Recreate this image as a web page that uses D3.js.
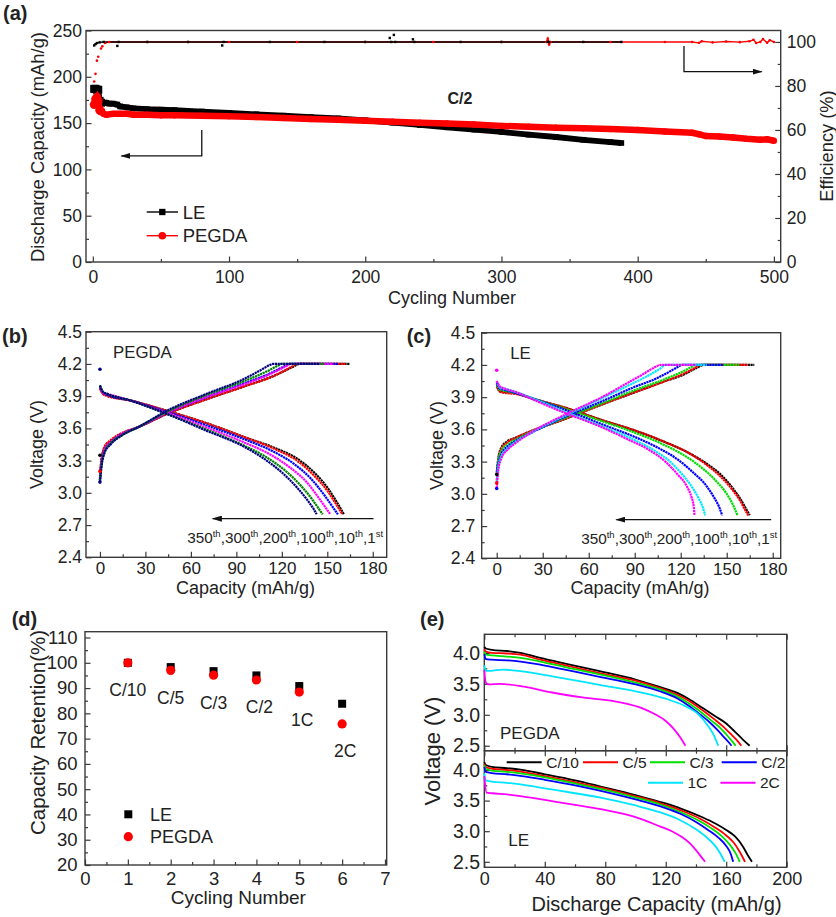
<!DOCTYPE html>
<html><head><meta charset="utf-8">
<script src="https://cdn.jsdelivr.net/npm/d3@7"></script>
<style>body{margin:0;background:#fff}</style>
</head><body>
<script>
// ---------------- DATA ----------------
// (a) cycling performance
const aCyclesLE = [1,2,3,4,5,6,8,10,12,15,18,20,25,30,40,50,60,80,100,120,140,160,180,200,220,240,260,280,300,320,340,360,380,388];
const aCapLE    = [187,187,186,186,174,172,172,172,171,171,170,168,167,166,165,164.5,164,162.5,161,159.5,158,156.5,155,153,150.5,148,145.5,143,140.5,137.5,135,132,129.5,128.5];
const aCyclesPEGDA = [1,2,3,4,5,6,8,10,15,20,25,30,40,50,60,80,100,120,140,160,180,200,220,240,260,280,300,320,340,360,380,400,420,440,445,450,460,470,480,490,495,500];
const aCapPEGDA    = [170,176,178,174,164,163,160,159,160,160,160,159,159,158.5,158.5,158,157.5,156.5,155.5,154.5,153.5,152.5,151.5,150.5,149.5,148.5,147,146,145,144.5,143.5,142.5,141,139.5,138,136,135.5,134.5,133,132,132.5,131];
const aEffCyclesLE = [1,2,3,5,8,18,19,40,70,95,96,130,170,200,218,219,221,222,235,236,270,300,334,335,360,388];
const aEffLE       = [98.4,99.0,99.5,99.8,100,98.2,100,100,100,98.4,100,100,100,100,101.8,100,103.2,100,101.2,100,100,100,100,100,100,100];
const aEffCyclesPEGDA = [1,2,3,4,6,7,9,12,40,70,100,150,200,250,300,333,334,335,336,380,420,440,445,447,455,465,475,482,485,487,490,492,495,497,500];
const aEffPEGDA       = [82,85.5,91.5,93.3,97,98,99.5,100,100,100,100,100,100,100,100,100,101.5,98.8,100,100,100,100,99.6,100.3,99.8,100.2,99.9,100.3,101,99.5,100,101.3,99.6,100.8,100];
const aXTicks = [0,100,200,300,400,500];
const aYTicks = [0,50,100,150,200,250];
const aY2Ticks = [0,20,40,60,80,100];

// (b) PEGDA charge/discharge profiles
const bCycles = ["1st","10th","100th","200th","300th","350th"];
const bColors = ["#000000","#ff0000","#0000ff","#ff00ff","#008000","#000080"];
const bCharge = [
 [[0,3.12],[1,3.30],[3,3.42],[7,3.48],[15,3.55],[25,3.61],[45,3.74],[70,3.87],[95,3.99],[115,4.09],[127,4.17],[132,4.20],[165,4.20]],
 [[0,3.20],[1,3.31],[3,3.43],[7,3.49],[15,3.56],[25,3.61],[45,3.74],[70,3.87],[95,3.99],[115,4.09],[126,4.17],[130,4.20],[162,4.20]],
 [[0,3.12],[1,3.28],[3,3.40],[7,3.47],[15,3.55],[25,3.61],[45,3.75],[70,3.89],[95,4.02],[112,4.11],[122,4.18],[125,4.20],[157,4.20]],
 [[0,3.14],[1,3.28],[3,3.40],[7,3.47],[15,3.55],[25,3.61],[45,3.75],[70,3.89],[95,4.01],[113,4.11],[123,4.18],[126,4.20],[154,4.20]],
 [[0,3.12],[1,3.26],[3,3.38],[7,3.46],[15,3.54],[25,3.61],[45,3.76],[70,3.91],[95,4.04],[110,4.13],[117,4.18],[120,4.20],[148,4.20]],
 [[0,3.10],[1,3.24],[3,3.37],[7,3.45],[15,3.54],[25,3.61],[45,3.77],[70,3.92],[95,4.06],[107,4.15],[112,4.19],[114,4.20],[145,4.20]]
];
const bDischarge = [
 [[0,3.98],[2,3.93],[5,3.91],[20,3.86],[45,3.76],[70,3.65],[95,3.52],[115,3.42],[130,3.32],[142,3.18],[150,3.05],[156,2.92],[161,2.80]],
 [[0,3.97],[2,3.92],[5,3.90],[20,3.86],[45,3.76],[70,3.65],[95,3.52],[115,3.41],[130,3.30],[142,3.15],[150,3.02],[156,2.89],[160,2.80]],
 [[0,3.99],[2,3.93],[5,3.91],[20,3.86],[45,3.75],[70,3.63],[95,3.50],[115,3.38],[128,3.27],[140,3.12],[148,2.98],[153,2.88],[157,2.80]],
 [[0,3.99],[2,3.93],[5,3.92],[20,3.86],[45,3.74],[70,3.61],[95,3.47],[112,3.36],[125,3.24],[137,3.09],[144,2.96],[149,2.86],[152,2.80]],
 [[0,4.00],[2,3.94],[5,3.92],[20,3.86],[45,3.73],[70,3.59],[95,3.44],[110,3.33],[122,3.21],[133,3.06],[140,2.94],[144,2.86],[147,2.80]],
 [[0,4.00],[2,3.94],[5,3.92],[20,3.86],[45,3.73],[70,3.58],[95,3.43],[108,3.32],[120,3.19],[130,3.05],[137,2.93],[141,2.85],[143,2.80]]
];
const bRestDots = [[0,4.15,5],[0,3.10,5],[0,3.20,1],[0,3.35,0]];

// (c) LE charge/discharge profiles
const cCycles = ["1st","10th","100th","200th","300th","350th"];
const cColors = ["#000000","#ff0000","#00dd00","#0000ff","#00e5ff","#ff00ff"];
const cCharge = [
 [[0,3.18],[1,3.33],[3,3.43],[7,3.49],[12,3.52],[20,3.57],[45,3.70],[70,3.84],[89,3.94],[110,4.05],[122,4.11],[130,4.17],[135,4.20],[168,4.20]],
 [[0,3.10],[1,3.30],[3,3.42],[7,3.48],[12,3.52],[20,3.57],[45,3.70],[70,3.84],[89,3.94],[110,4.05],[122,4.12],[129,4.17],[133,4.20],[164,4.20]],
 [[0,3.18],[1,3.30],[3,3.40],[7,3.46],[12,3.50],[20,3.56],[45,3.71],[70,3.85],[89,3.96],[110,4.07],[120,4.13],[127,4.18],[130,4.20],[158,4.20]],
 [[0,3.20],[1,3.28],[3,3.37],[7,3.44],[12,3.49],[20,3.55],[45,3.72],[70,3.87],[89,3.99],[105,4.08],[113,4.14],[118,4.18],[121,4.20],[148,4.20]],
 [[0,3.12],[1,3.25],[3,3.35],[7,3.42],[12,3.48],[20,3.55],[45,3.73],[70,3.90],[89,4.03],[100,4.11],[107,4.17],[110,4.20],[137,4.20]],
 [[0,3.05],[1,3.22],[3,3.33],[7,3.41],[12,3.47],[20,3.55],[45,3.74],[70,3.91],[85,4.03],[95,4.11],[102,4.17],[107,4.20],[130,4.20]]
];
const cDischarge = [
 [[0,4.02],[2,3.96],[5,3.95],[12,3.94],[25,3.88],[45,3.80],[70,3.68],[90,3.59],[110,3.48],[124,3.39],[136,3.29],[146,3.18],[153,3.07],[159,2.95],[163,2.85],[165,2.80]],
 [[0,4.00],[2,3.95],[5,3.94],[12,3.93],[25,3.88],[45,3.80],[70,3.68],[90,3.59],[110,3.48],[124,3.39],[136,3.28],[146,3.16],[153,3.05],[159,2.93],[162,2.85],[164,2.80]],
 [[0,4.03],[2,3.97],[5,3.96],[12,3.94],[25,3.88],[45,3.79],[70,3.67],[90,3.57],[110,3.45],[122,3.36],[134,3.24],[143,3.12],[150,3.00],[154,2.90],[157,2.80]],
 [[0,4.04],[2,3.98],[5,3.97],[12,3.94],[25,3.88],[45,3.78],[70,3.64],[90,3.53],[105,3.43],[118,3.32],[128,3.20],[137,3.07],[142,2.96],[145,2.88],[147,2.80]],
 [[0,4.05],[2,3.99],[5,3.98],[12,3.95],[25,3.88],[45,3.76],[70,3.62],[90,3.50],[102,3.41],[113,3.30],[121,3.18],[128,3.05],[132,2.95],[134.5,2.87],[136,2.80]],
 [[0,4.05],[2,4.00],[5,3.98],[12,3.95],[25,3.87],[45,3.75],[67,3.63],[85,3.51],[98,3.42],[110,3.30],[118,3.18],[124,3.07],[127,2.97],[128.5,2.88],[129,2.80]]
];
const cRestDots = [[0,4.15,5],[0,3.05,3],[0,3.10,1],[0,3.18,0]];
const cycleArrowLabels = [["350","th"],["300","th"],["200","th"],["100","th"],["10","th"],["1","st"]];
const bcXTicks = [0,30,60,90,120,150,180];
const bcYTicks = [2.4,2.7,3.0,3.3,3.6,3.9,4.2,4.5];

// (d) rate capability
const dCycles = [1,2,3,4,5,6];
const dRates = ["C/10","C/5","C/3","C/2","1C","2C"];
const dRetLE = [100,98.3,96.7,95.0,90.8,83.8];
const dRetPEGDA = [100,97.0,95.1,93.2,88.4,75.8];
const dXTicks = [0,1,2,3,4,5,6,7];
const dYTicks = [20,30,40,50,60,70,80,90,100,110];

// (e) discharge curves at rates
const eRates = ["C/10","C/5","C/3","C/2","1C","2C"];
const eColors = ["#000000","#ff0000","#00e000","#0000ff","#00e5ff","#ff00ff"];
const ePEGDA = [
 [[0,4.10],[1,4.07],[5,4.05],[15,4.03],[24,4.00],[37,3.92],[55,3.82],[77,3.70],[100,3.57],[116,3.45],[128,3.35],[135,3.26],[145,3.10],[152.5,2.98],[160,2.86],[166,2.72],[171,2.60],[175.5,2.50]],
 [[0,4.06],[1,4.02],[5,4.00],[15,3.99],[24,3.97],[37,3.89],[55,3.79],[77,3.67],[100,3.55],[116,3.43],[128,3.32],[135,3.23],[145,3.06],[152,2.93],[158,2.81],[163,2.69],[167,2.59],[170,2.50]],
 [[0,4.02],[1,3.97],[5,3.96],[15,3.94],[24,3.92],[37,3.86],[55,3.76],[77,3.65],[100,3.52],[116,3.41],[128,3.29],[135,3.19],[144,3.03],[150,2.91],[156,2.79],[160.5,2.67],[164,2.57],[166.3,2.50]],
 [[0,3.98],[1,3.90],[5,3.89],[15,3.88],[24,3.86],[37,3.81],[55,3.72],[77,3.61],[100,3.49],[116,3.38],[128,3.26],[135,3.15],[143,3.00],[149,2.88],[154,2.76],[158.5,2.64],[161.5,2.56],[163.5,2.50]],
 [[0,3.80],[1,3.71],[4,3.71],[12,3.73],[25,3.70],[45,3.62],[77,3.48],[100,3.38],[120,3.26],[132,3.15],[142,3.00],[148,2.82],[152,2.66],[154.7,2.50]],
 [[0,3.72],[1,3.52],[3,3.49],[10,3.50],[25,3.46],[45,3.36],[65,3.28],[90,3.20],[105,3.10],[112,3.02],[120,2.90],[125,2.78],[130,2.62],[133,2.50]]
];
const eLE = [
 [[0,4.13],[1,4.08],[5,4.05],[15,4.03],[25,4.00],[40,3.93],[60,3.83],[77,3.73],[100,3.59],[116,3.48],[130,3.37],[145,3.22],[152.5,3.13],[160,3.02],[166,2.91],[171,2.75],[174,2.62],[177,2.50]],
 [[0,4.10],[1,4.05],[5,4.02],[15,4.00],[25,3.97],[40,3.90],[60,3.80],[77,3.71],[100,3.57],[116,3.46],[130,3.34],[143,3.20],[152,3.07],[160,2.93],[165,2.81],[169,2.66],[172.4,2.50]],
 [[0,4.08],[1,4.02],[5,3.99],[15,3.97],[25,3.94],[40,3.88],[60,3.78],[77,3.69],[100,3.55],[116,3.44],[130,3.31],[142,3.17],[150,3.05],[157,2.92],[162,2.79],[166,2.65],[169,2.50]],
 [[0,4.05],[1,3.97],[5,3.95],[15,3.93],[25,3.90],[40,3.84],[60,3.75],[77,3.66],[100,3.52],[116,3.41],[130,3.28],[140,3.15],[148,3.02],[155,2.89],[160,2.76],[163,2.63],[164.6,2.50]],
 [[0,3.95],[1,3.83],[5,3.81],[15,3.79],[25,3.76],[40,3.70],[60,3.62],[77,3.55],[100,3.42],[116,3.31],[128,3.20],[140,3.03],[147,2.90],[152,2.78],[156,2.64],[159,2.50]],
 [[0,3.90],[1.5,3.63],[5,3.62],[15,3.60],[25,3.57],[40,3.51],[60,3.43],[77,3.36],[100,3.23],[116,3.08],[124,3.00],[131,2.90],[136,2.80],[140,2.69],[143.5,2.58],[146,2.50]]
];
const eXTicks = [0,40,80,120,160,200];
const eYTicks = [2.5,3.0,3.5,4.0];

// ---------------- DRAWING ----------------
const FONT = '"Liberation Sans", Arial, Helvetica, sans-serif';
const AX = "#3a3a3a";
const TXT = "#222";
const svg = d3.select("body").append("svg").attr("width",836).attr("height",917)
  .style("font-family",FONT).style("background","#fff");
const defs = svg.append("defs");
defs.append("marker").attr("id","ah").attr("viewBox","0 0 10 6").attr("refX",9).attr("refY",3)
  .attr("markerWidth",10).attr("markerHeight",6).attr("markerUnits","userSpaceOnUse").attr("orient","auto")
  .append("path").attr("d","M0,0L10,3L0,6Z").attr("fill","#111");

function frame(x0,y0,x1,y1){
  svg.append("rect").attr("x",x0).attr("y",y0).attr("width",x1-x0).attr("height",y1-y0)
    .attr("fill","none").attr("stroke",AX).attr("stroke-width",1.4);
}
function mid(a){ const r=[]; for(let i=0;i<a.length-1;i++) r.push(+((a[i]+a[i+1])/2).toFixed(4)); return r; }
function axis(kind, scale, tx, ty, major, fmt, pad, fs, labels=true, minor=true){
  const gen = kind==="b"?d3.axisBottom:kind==="l"?d3.axisLeft:kind==="r"?d3.axisRight:d3.axisTop;
  if(minor){
    const m = svg.append("g").attr("transform",`translate(${tx},${ty})`)
      .call(gen(scale).tickValues(mid(major)).tickSize(-3).tickFormat(()=>""));
    m.select(".domain").remove();
    m.selectAll("line").attr("stroke",AX).attr("stroke-width",1.2);
  }
  const g = svg.append("g").attr("transform",`translate(${tx},${ty})`)
    .call(gen(scale).tickValues(major).tickSize(-5.5).tickPadding(pad).tickFormat(labels?fmt:()=>""));
  g.select(".domain").remove();
  g.selectAll(".tick line").attr("stroke",AX).attr("stroke-width",1.2);
  g.selectAll(".tick text").attr("font-size",fs).attr("fill",TXT).attr("font-family",FONT);
  return g;
}
function text(x,y,s,o={}){
  const t = svg.append("text").attr("x",x).attr("y",y).text(s)
    .attr("font-size",o.size||18).attr("fill",o.fill||TXT).attr("font-family",FONT)
    .attr("text-anchor",o.anchor||"start").attr("font-weight",o.weight||"normal");
  if(o.rot!==undefined){ t.attr("x",0).attr("y",0).attr("dy","0.35em").attr("transform",`translate(${x},${y}) rotate(${o.rot})`); }
  return t;
}
function arrow(pts){
  svg.append("polyline").attr("points",pts.map(p=>p.join(",")).join(" "))
    .attr("fill","none").attr("stroke","#111").attr("stroke-width",1.3).attr("marker-end","url(#ah)");
}
const sq = d3.symbol().type(d3.symbolSquare);

// ===== Panel (a) =====
{
  const x = d3.scaleLinear([-5,505],[86,780.7]);
  const y = d3.scaleLinear([0,250],[262,30.5]);
  const y2 = d3.scaleLinear([0,105.2],[262,30.5]);
  frame(86,30.5,780.7,262);
  axis("b",x,0,262,aXTicks,d3.format("d"),9,17.5);
  axis("l",y,86,0,aYTicks,d3.format("d"),4,17.5);
  axis("r",y2,780.7,0,aY2Ticks,d3.format("d"),6,17.5);

  const le = d3.zip(aCyclesLE,aCapLE), pg = d3.zip(aCyclesPEGDA,aCapPEGDA);
  const line = d3.line().x(d=>x(d[0])).y(d=>y(d[1]));
  svg.append("path").attr("d",line(le)).attr("fill","none").attr("stroke","#000").attr("stroke-width",5.8);
  svg.append("g").selectAll("path").data(le).join("path")
    .attr("d",d=>sq.size(d[0]<=6?64:32)()).attr("transform",d=>`translate(${x(d[0])},${y(d[1])})`).attr("fill","#000");
  svg.append("path").attr("d",line(pg)).attr("fill","none").attr("stroke","#ff0000").attr("stroke-width",6.5);
  svg.append("g").selectAll("circle").data(pg).join("circle")
    .attr("cx",d=>x(d[0])).attr("cy",d=>y(d[1])).attr("r",d=>d[0]<=6?4.4:3.2).attr("fill","#ff0000");

  const le2 = d3.zip(aEffCyclesLE,aEffLE), pg2 = d3.zip(aEffCyclesPEGDA,aEffPEGDA);
  const line2 = d3.line().x(d=>x(d[0])).y(d=>y2(d[1]));
  svg.append("path").attr("d",line2(pg2.filter(d=>d[0]>=9))).attr("fill","none").attr("stroke","#ff0000").attr("stroke-width",1.4);
  svg.append("path").attr("d",line2(le2.filter(d=>d[0]>=2 && (d[0]<=5 || Math.abs(d[1]-100)<0.5))))
    .attr("fill","none").attr("stroke","#000").attr("stroke-width",1.4);
  svg.append("g").selectAll("circle").data(pg2).join("circle")
    .attr("cx",d=>x(d[0])).attr("cy",d=>y2(d[1])).attr("r",1.3).attr("fill","#ff0000");
  svg.append("g").selectAll("rect").data(le2).join("rect")
    .attr("x",d=>x(d[0])-1.2).attr("y",d=>y2(d[1])-1.2).attr("width",2.4).attr("height",2.4).attr("fill","#000");

  // annotations
  text(460,103.5,"C/2",{size:16,weight:"bold",anchor:"middle"});
  arrow([[x(80),y(142.5)],[x(80),y(114.5)],[x(21),y(114.5)]]);
  arrow([[x(434),y2(98.2)],[x(434),y2(86.5)],[x(491),y2(86.5)]]);
  // legend
  svg.append("line").attr("x1",146.7).attr("x2",178).attr("y1",212).attr("y2",212).attr("stroke","#000").attr("stroke-width",1.4);
  svg.append("path").attr("d",sq.size(40)).attr("transform","translate(162.3,212)").attr("fill","#000");
  text(182.7,218.5,"LE",{size:18.5});
  svg.append("line").attr("x1",146.7).attr("x2",178).attr("y1",235.7).attr("y2",235.7).attr("stroke","#ff0000").attr("stroke-width",1.4);
  svg.append("circle").attr("cx",162.3).attr("cy",235.7).attr("r",3.8).attr("fill","#ff0000");
  text(182.7,242.2,"PEGDA",{size:18.5});

  text(38,147,"Discharge Capacity (mAh/g)",{size:18.4,rot:-90,anchor:"middle"});
  text(826.5,146,"Efficiency (%)",{size:18.3,rot:-90,anchor:"middle"});
  text(452,303.5,"Cycling Number",{size:18,anchor:"middle"});
  text(3,20,"(a)",{size:20,weight:"bold"});
}

// ===== Panels (b) & (c) =====
function profilePanel(o){
  const x = d3.scaleLinear(o.xd,[o.x0,o.x1]);
  const y = d3.scaleLinear([2.4,4.5],[o.y1,o.y0]);
  frame(o.x0,o.y0,o.x1,o.y1);
  axis("b",x,0,o.y1,bcXTicks,d3.format("d"),o.padX,17);
  axis("l",y,o.x0,0,bcYTicks,d3.format(".1f"),o.padY,17.5);
  const line = d3.line().x(d=>x(d[0])).y(d=>y(d[1])).curve(d3.curveMonotoneX);
  o.charge.forEach((c,i)=>{
    svg.append("path").attr("d",line(c)).attr("fill","none").attr("stroke",o.colors[i]).attr("stroke-width",2.2).attr("stroke-dasharray","2.2,0.6");
    svg.append("path").attr("d",line(o.discharge[i])).attr("fill","none").attr("stroke",o.colors[i]).attr("stroke-width",2.2).attr("stroke-dasharray","2.2,0.6");
  });
  o.rest.forEach(d=>{
    svg.append("circle").attr("cx",x(d[0])).attr("cy",y(d[1])).attr("r",1.8).attr("fill",o.colors[d[2]]);
  });
  // arrow + label
  arrow([[x(o.arrowFrom),y(2.76)],[x(o.arrowTo),y(2.76)]]);
  const t = svg.append("text").attr("x",o.x1-3.5).attr("y",o.y1-14.5).attr("text-anchor","end")
    .attr("font-size",15.3).attr("fill",TXT).attr("font-family",FONT);
  cycleArrowLabels.forEach((p,i)=>{
    t.append("tspan").attr("dy",i===0?0:6).text((i?",":"")+p[0]);
    t.append("tspan").attr("dy",-6).attr("font-size",9.5).text(p[1]);
  });
  text(o.x0+o.nameDx,o.y0+26,o.name,{size:16.8});
  text(o.yTitleX,(o.y0+o.y1)/2,"Voltage (V)",{size:18,rot:-90,anchor:"middle"});
  text(o.xTitleX,594,"Capacity (mAh/g)",{size:18,anchor:"middle"});
  text(o.labX,342.5,o.lab,{size:20,weight:"bold"});
}
profilePanel({x0:86,x1:386.7,y0:331.7,y1:557.3,xd:[-9.2,189.2],padX:4.5,padY:4,
  charge:bCharge,discharge:bDischarge,colors:bColors,rest:bRestDots,arrowFrom:180.5,arrowTo:74.5,
  name:"PEGDA",nameDx:27,yTitleX:36.7,xTitleX:245.5,labX:2,lab:"(b)"});
profilePanel({x0:481.7,x1:780.7,y0:332.7,y1:558.3,xd:[-9.8,185.2],padX:4.5,padY:6.5,
  charge:cCharge,discharge:cDischarge,colors:cColors,rest:cRestDots,arrowFrom:179,arrowTo:78,
  name:"LE",nameDx:28.5,yTitleX:436.7,xTitleX:640,labX:406.7,lab:"(c)"});

// ===== Panel (d) =====
{
  const x = d3.scaleLinear([0,7.04],[85,386.7]);
  const y = d3.scaleLinear([20,112.3],[865,631.7]);
  frame(85,631.7,386.7,865);
  axis("b",x,0,865,dXTicks,d3.format("d"),6.5,18.5);
  axis("l",y,85,0,dYTicks,d3.format("d"),7.5,18.5);
  svg.append("g").selectAll("path").data(d3.zip(dCycles,dRetLE)).join("path")
    .attr("d",sq.size(64)).attr("transform",d=>`translate(${x(d[0])},${y(d[1])})`).attr("fill","#000");
  svg.append("g").selectAll("circle").data(d3.zip(dCycles,dRetPEGDA)).join("circle")
    .attr("cx",d=>x(d[0])).attr("cy",d=>y(d[1])).attr("r",4.6).attr("fill","#ff0000");
  dRates.forEach((r,i)=>{
    text(x(dCycles[i])+(i>2?3:0),y(dRetPEGDA[i])+33.5,r,{size:17.5,anchor:"middle"});
  });
  svg.append("path").attr("d",sq.size(64)).attr("transform","translate(128.3,814.3)").attr("fill","#000");
  text(150,820.5,"LE",{size:18});
  svg.append("circle").attr("cx",128.3).attr("cy",836.7).attr("r",4.6).attr("fill","#ff0000");
  text(150,843,"PEGDA",{size:18});
  text(38.3,732.5,"Capacity Retention(%)",{size:20.5,rot:-90,anchor:"middle"});
  text(238.3,904,"Cycling Number",{size:19,anchor:"middle"});
  text(11.7,626,"(d)",{size:20,weight:"bold"});
}

// ===== Panel (e) =====
{
  const x = d3.scaleLinear([0,200],[484.3,786.7]);
  const yT = d3.scaleLinear([2.42,4.30],[750.7,634.3]);
  const yB = d3.scaleLinear([2.41,4.315],[867.3,750.7]);
  frame(484.3,634.3,786.7,750.7);
  frame(484.3,750.7,786.7,867.3);
  axis("b",x,0,867.3,eXTicks,d3.format("d"),5,18);
  axis("b",x,0,750.7,eXTicks,d3.format("d"),7,19,false);
  axis("t",x,0,750.7,eXTicks,d3.format("d"),7,19,false);
  axis("t",x,0,634.3,eXTicks,d3.format("d"),7,19,false);
  axis("l",yT,484.3,0,eYTicks,d3.format(".1f"),4.3,19.5);
  axis("l",yB,484.3,0,eYTicks,d3.format(".1f"),4.3,19.5);
  const lT = d3.line().x(d=>x(d[0])).y(d=>yT(d[1])).curve(d3.curveMonotoneX);
  const lB = d3.line().x(d=>x(d[0])).y(d=>yB(d[1])).curve(d3.curveMonotoneX);
  ePEGDA.forEach((c,i)=>svg.append("path").attr("d",lT(c)).attr("fill","none").attr("stroke",eColors[i]).attr("stroke-width",1.8));
  eLE.forEach((c,i)=>svg.append("path").attr("d",lB(c)).attr("fill","none").attr("stroke",eColors[i]).attr("stroke-width",1.8));
  text(500,738.5,"PEGDA",{size:17});
  text(508.3,846,"LE",{size:17});
  // legend
  const legPos = [[506.7,762.3],[583,762.3],[650,762.3],[721.7,762.3],[648,782.7],[720.5,782.7]];
  eRates.forEach((r,i)=>{
    const [lx,ly] = legPos[i];
    svg.append("line").attr("x1",lx).attr("x2",lx+35).attr("y1",ly).attr("y2",ly).attr("stroke",eColors[i]).attr("stroke-width",2);
    text(lx+39.5,ly+5.5,r,{size:15.5});
  });
  text(432,751,"Voltage (V)",{size:22,rot:-90,anchor:"middle"});
  text(656.5,910.5,"Discharge Capacity (mAh/g)",{size:20,anchor:"middle"});
  text(420,626,"(e)",{size:20,weight:"bold"});
}
</script>
</body></html>
